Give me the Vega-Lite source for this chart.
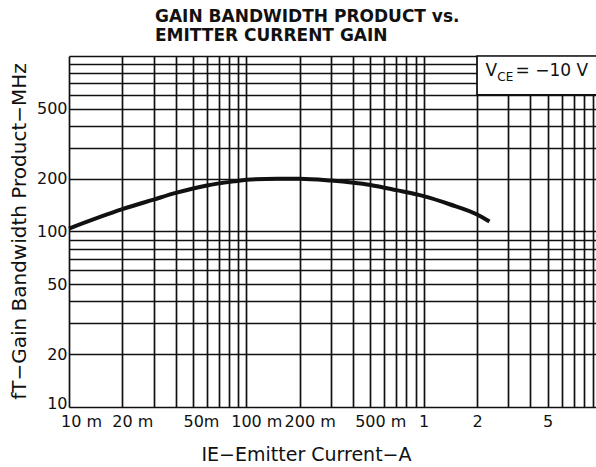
{
  "$schema": "https://vega.github.io/schema/vega-lite/v6.json",
  "width": 532,
  "height": 351,
  "autosize": {"type": "none"},
  "padding": {"left": 69, "top": 56, "right": 0, "bottom": 60},
  "background": "white",
  "view": {"stroke": null},
  "config": {"font": "DejaVu Sans"},
  "title": {
    "text": ["GAIN BANDWIDTH PRODUCT vs.", "EMITTER CURRENT GAIN"],
    "anchor": "start",
    "frame": "group",
    "align": "left",
    "dx": 86,
    "offset": 3,
    "font": "DejaVu Sans",
    "fontSize": 17,
    "fontWeight": "bold",
    "lineHeight": 19,
    "color": "#111"
  },
  "layer": [
    {
      "data": {"values": [
        {"ie": 0.01, "ft": 104},
        {"ie": 0.02, "ft": 134},
        {"ie": 0.03, "ft": 152},
        {"ie": 0.04, "ft": 166},
        {"ie": 0.06, "ft": 183},
        {"ie": 0.085, "ft": 193},
        {"ie": 0.1, "ft": 197},
        {"ie": 0.15, "ft": 200},
        {"ie": 0.2, "ft": 200},
        {"ie": 0.3, "ft": 195},
        {"ie": 0.5, "ft": 184},
        {"ie": 0.7, "ft": 172},
        {"ie": 1.0, "ft": 159},
        {"ie": 1.4, "ft": 143},
        {"ie": 2.0, "ft": 125},
        {"ie": 2.35, "ft": 114}
      ]},
      "mark": {"type": "line", "color": "#111", "strokeWidth": 4, "interpolate": "monotone"},
      "encoding": {
        "x": {
          "field": "ie",
          "type": "quantitative",
          "scale": {"type": "log", "domain": [0.01, 10]},
          "axis": {
            "values": [0.01,0.02,0.03,0.04,0.05,0.06,0.07,0.08,0.09,0.1,0.2,0.3,0.4,0.5,0.6,0.7,0.8,0.9,1,2,3,4,5,6,7,8,9,10],
            "grid": true,
            "gridColor": "#111",
            "gridWidth": 1.7,
            "gridOpacity": 1,
            "ticks": false,
            "domain": false,
            "labelExpr": "indexof([0.01,0.02,0.05,0.1,0.2,0.5,1,2,5], datum.value) < 0 ? '' : (datum.value < 1 ? (round(datum.value*1000) + (datum.value == 0.05 ? 'm' : ' m')) : ('' + datum.value))",
            "labelOffset": {"expr": "datum.value == 0.01 ? 12 : (datum.value == 0.05 ? 8 : (datum.value < 1 ? 10 : 0))"},
            "labelFont": "DejaVu Sans",
            "labelFontSize": 16,
            "labelColor": "#111",
            "labelPadding": 6,
            "labelOverlap": false,
            "labelFlush": false,
            "labelBound": false,
            "title": "IE−Emitter Current−A",
            "titleFont": "DejaVu Sans",
            "titleFontSize": 19,
            "titleFontWeight": "normal",
            "titleColor": "#111",
            "titleX": 237,
            "titleY": 53,
            "titleAlign": "center",
            "titleBaseline": "alphabetic"
          }
        },
        "y": {
          "field": "ft",
          "type": "quantitative",
          "scale": {"type": "log", "domain": [10, 1000]},
          "axis": {
            "values": [10,20,30,40,50,60,70,80,90,100,200,300,400,500,600,700,800,900,1000],
            "grid": true,
            "gridColor": "#111",
            "gridWidth": 1.7,
            "gridOpacity": 1,
            "ticks": false,
            "domain": false,
            "labelExpr": "indexof([10,20,50,100,200,500], datum.value) >= 0 ? ('' + datum.value) : ''",
            "labelOffset": {"expr": "datum.value == 10 ? -4 : 0"},
            "labelFont": "DejaVu Sans",
            "labelFontSize": 16,
            "labelColor": "#111",
            "labelPadding": 2,
            "labelOverlap": false,
            "labelFlush": false,
            "labelBound": false,
            "title": "fT−Gain Bandwidth Product−MHz",
            "titleFont": "DejaVu Sans",
            "titleFontSize": 20,
            "titleFontWeight": "normal",
            "titleColor": "#111",
            "titleAngle": -90,
            "titleX": -50,
            "titleY": 175,
            "titleAlign": "center",
            "titleBaseline": "middle"
          }
        }
      }
    },
    {
      "data": {"values": [{"label": "box"}]},
      "mark": {"type": "rect", "fill": "white", "stroke": "#111", "strokeWidth": 1.7},
      "encoding": {
        "x": {"datum": 2},
        "x2": {"datum": 10},
        "y": {"datum": 600},
        "y2": {"datum": 1000}
      }
    },
    {
      "data": {"values": [{"label": "V"}]},
      "mark": {"type": "text", "align": "left", "baseline": "alphabetic", "fontSize": 17, "font": "DejaVu Sans", "color": "#111"},
      "encoding": {
        "x": {"datum": 2.23},
        "y": {"datum": 769},
        "text": {"field": "label"}
      }
    },
    {
      "data": {"values": [{"label": "CE"}]},
      "mark": {"type": "text", "align": "left", "baseline": "alphabetic", "fontSize": 12, "font": "DejaVu Sans", "color": "#111"},
      "encoding": {
        "x": {"datum": 2.6},
        "y": {"datum": 720},
        "text": {"field": "label"}
      }
    },
    {
      "data": {"values": [{"label": "= −10 V"}]},
      "mark": {"type": "text", "align": "left", "baseline": "alphabetic", "fontSize": 17, "font": "DejaVu Sans", "color": "#111"},
      "encoding": {
        "x": {"datum": 3.3},
        "y": {"datum": 769},
        "text": {"field": "label"}
      }
    }
  ]
}
